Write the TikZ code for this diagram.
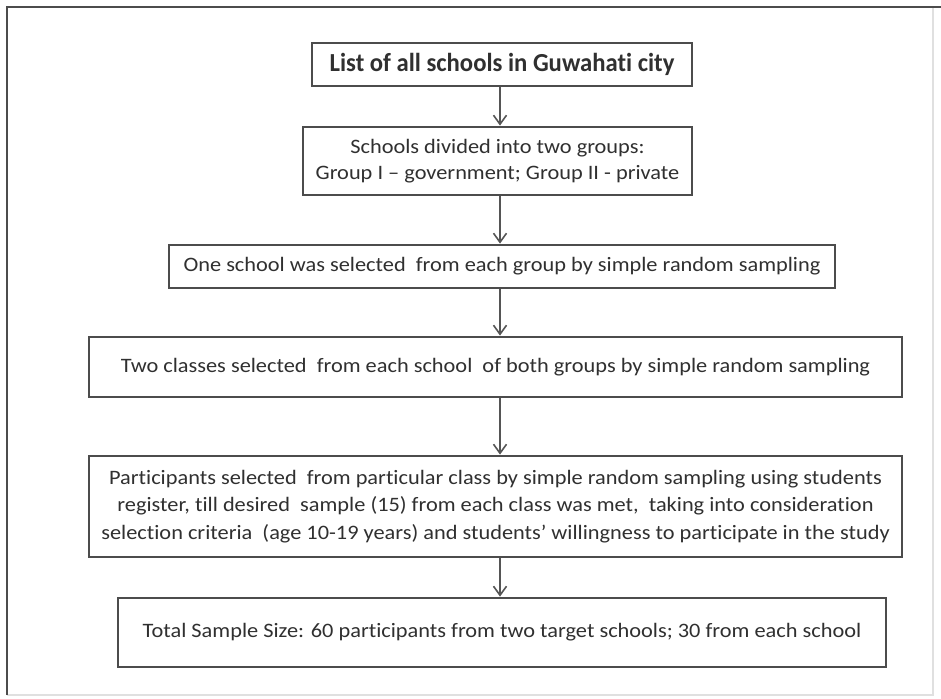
\documentclass[tikz,border=0pt]{standalone}
\usepackage{fontspec}
\setmainfont{Carlito}[FakeStretch=1.09,Ligatures=NoCommon]
\newfontfamily\titlefont{Carlito}[FakeStretch=0.95,Ligatures=NoCommon]
\usetikzlibrary{arrows.meta}
\definecolor{boxline}{HTML}{4C4C4C}
\definecolor{txt}{HTML}{303030}
\definecolor{arr}{HTML}{555555}
\begin{document}
\begin{tikzpicture}[x=1pt,y=-1pt,
  stepbox/.style={draw=boxline,line width=2.8pt,inner sep=0pt,align=center,
    text=txt,font=\fontsize{20.5}{26}\selectfont},
  flow/.style={draw=arr,line width=1.8pt,-{Straight Barb[length=9pt,width=13pt,line width=1.6pt]}}]
\useasboundingbox (0,0) rectangle (941,698);
\fill[white] (0,0) rectangle (941,698);
\draw[draw=black!12,line width=2.5pt] (933,7) -- (933,695) -- (7,695);
\draw[draw=boxline,line width=2.8pt] (7,695) -- (7,7) -- (941,7);
\node[stepbox,minimum width=380pt,minimum height=43pt,font=\titlefont\fontsize{26}{26}\selectfont\bfseries] (b1) at (502,64.5)
  {List of all schools in Guwahati city};
\node[stepbox,minimum width=389pt,minimum height=68pt] (b2) at (497.5,161)
  {Schools divided into two groups:\\Group I -- government; Group II - private};
\node[stepbox,minimum width=666pt,minimum height=43pt] (b3) at (502,266.5)
  {One school was selected\ \ from each group by simple random sampling};
\node[stepbox,minimum width=813pt,minimum height=60pt] (b4) at (495.5,367)
  {Two classes selected\ \ from each school\ \ of both groups by simple random sampling};
\node[stepbox,minimum width=813pt,minimum height=101pt,font=\fontsize{20.5}{27.5}\selectfont] (b5) at (495.5,506.5)
  {Participants selected\ \ from particular class by simple random sampling using students\\
   register, till desired\ \ sample (15) from each class was met,\ \ taking into consideration\\
   selection criteria\ \ (age 10-19 years) and students’ willingness to participate in the study};
\node[stepbox,minimum width=768pt,minimum height=69pt] (b6) at (502,632.5)
  {Total Sample Size: 60 participants from two target schools; 30 from each school};
\coordinate (ax) at (500,0);
\draw[flow] (b1.south -| ax) -- (b2.north -| ax);
\draw[flow] (b2.south -| ax) -- (b3.north -| ax);
\draw[flow] (b3.south -| ax) -- (b4.north -| ax);
\draw[flow] (b4.south -| ax) -- (b5.north -| ax);
\draw[flow] (b5.south -| ax) -- (b6.north -| ax);
\end{tikzpicture}
\end{document}
